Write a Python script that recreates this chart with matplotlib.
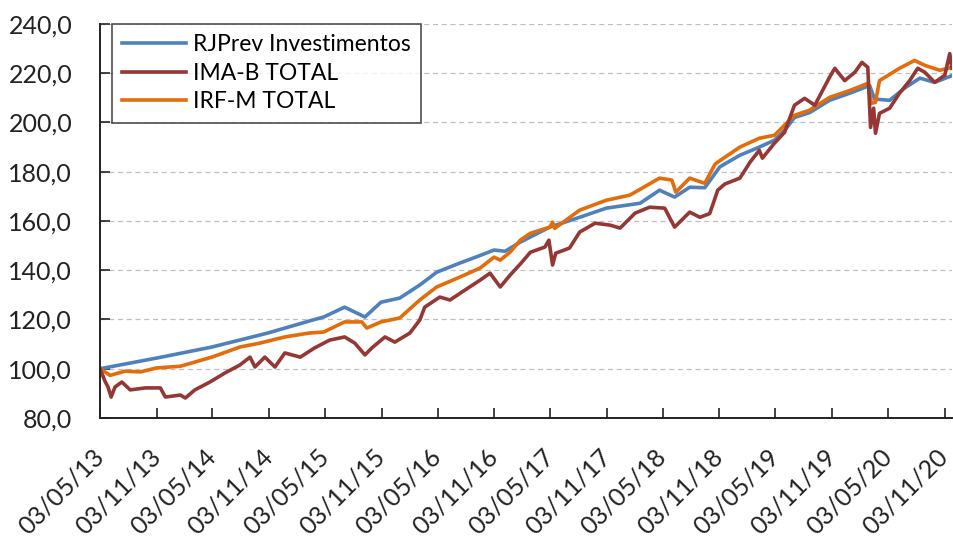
import matplotlib
matplotlib.use("Agg")
import matplotlib.pyplot as plt
import matplotlib.dates as mdates
import pandas as pd

# RJPrev Investimentos
rjprev_dates = ["2013-05-03", "2013-11-02", "2014-05-01", "2014-10-30", "2015-03-14",
                "2015-04-29", "2015-07-06", "2015-09-10", "2015-11-01", "2016-01-01",
                "2016-03-06", "2016-04-30", "2016-07-14", "2016-09-18", "2016-11-02",
                "2016-12-08", "2017-01-26", "2017-05-02", "2017-08-07", "2017-11-01",
                "2018-02-19", "2018-04-23", "2018-06-11", "2018-07-30", "2018-09-17",
                "2018-11-05", "2019-01-09", "2019-03-13", "2019-05-01", "2019-06-03",
                "2019-07-05", "2019-08-23", "2019-10-27", "2020-01-01", "2020-03-05",
                "2020-03-21", "2020-05-09", "2020-06-27", "2020-08-15", "2020-10-02",
                "2020-11-27"]
rjprev_values = [100.0, 104.3, 108.8, 114.5, 119.4,
                 121.0, 125.0, 121.0, 127.0, 128.7,
                 134.0, 139.2, 142.9, 146.0, 148.2,
                 147.7, 151.4, 157.5, 161.5, 165.2,
                 167.2, 172.5, 169.7, 173.7, 173.5,
                 182.0, 186.7, 190.0, 192.8, 196.8,
                 202.0, 204.0, 209.0, 211.9, 215.0,
                 209.5, 209.0, 214.0, 218.0, 216.3,
                 219.0]

# IMA-B TOTAL
imab_dates = ["2013-05-03", "2013-05-19", "2013-05-29", "2013-06-08", "2013-06-21",
              "2013-07-13", "2013-08-09", "2013-09-27", "2013-11-15", "2013-12-01",
              "2014-01-19", "2014-02-04", "2014-03-07", "2014-04-25", "2014-06-13",
              "2014-07-31", "2014-09-02", "2014-09-18", "2014-10-20", "2014-11-22",
              "2014-12-24", "2015-02-12", "2015-03-30", "2015-05-18", "2015-07-06",
              "2015-08-08", "2015-09-10", "2015-10-02", "2015-11-14", "2015-12-16",
              "2016-02-03", "2016-03-06", "2016-03-22", "2016-05-10", "2016-06-12",
              "2016-07-30", "2016-09-18", "2016-10-20", "2016-11-22", "2016-12-24",
              "2017-01-26", "2017-02-28", "2017-04-16", "2017-04-29", "2017-05-11",
              "2017-05-21", "2017-07-05", "2017-08-07", "2017-09-26", "2017-11-14",
              "2017-12-16", "2018-02-03", "2018-03-22", "2018-05-10", "2018-06-11",
              "2018-07-30", "2018-09-01", "2018-10-03", "2018-10-29", "2018-11-21",
              "2019-01-09", "2019-02-11", "2019-03-13", "2019-03-23", "2019-05-01",
              "2019-06-03", "2019-07-05", "2019-08-07", "2019-09-09", "2019-10-27",
              "2019-11-13", "2019-12-15", "2020-01-17", "2020-02-09", "2020-02-28",
              "2020-03-08", "2020-03-18", "2020-03-24", "2020-04-06", "2020-05-09",
              "2020-06-10", "2020-07-13", "2020-08-08", "2020-08-31", "2020-10-02",
              "2020-11-04", "2020-11-20", "2020-11-27"]
imab_values = [100.0, 95.0, 92.6, 88.5, 92.6,
               94.6, 91.4, 92.2, 92.2, 88.5,
               89.3, 88.1, 91.4, 94.6, 98.3,
               101.5, 104.7, 100.7, 104.7, 100.7,
               106.4, 104.7, 108.4, 111.6, 112.9,
               110.4, 105.6, 108.4, 112.9, 110.8,
               114.5, 119.8, 125.0, 129.1, 127.9,
               131.9, 136.0, 138.8, 133.2, 138.0,
               142.5, 147.3, 149.4, 152.2, 142.1,
               146.9, 149.0, 155.5, 159.1, 158.3,
               157.1, 163.2, 165.6, 165.2, 157.5,
               163.6, 161.5, 163.0, 172.5, 175.0,
               177.4, 183.9, 188.7, 185.5, 191.6,
               196.0, 207.0, 209.8, 207.0, 218.4,
               222.0, 217.0, 220.4, 224.4, 222.4,
               198.0, 205.8, 195.6, 203.7, 205.8,
               211.9, 217.0, 222.0, 220.4, 216.3,
               219.2, 228.0, 222.0]

# IRF-M TOTAL
irfm_dates = ["2013-05-03", "2013-06-05", "2013-07-23", "2013-09-11", "2013-11-02",
              "2014-01-19", "2014-05-01", "2014-07-31", "2014-10-04", "2014-12-24",
              "2015-03-14", "2015-04-29", "2015-07-06", "2015-08-31", "2015-09-16",
              "2015-11-01", "2016-01-01", "2016-03-06", "2016-04-30", "2016-07-14",
              "2016-09-18", "2016-11-02", "2016-11-22", "2016-12-24", "2017-01-26",
              "2017-02-28", "2017-05-02", "2017-05-11", "2017-05-18", "2017-08-07",
              "2017-11-01", "2018-01-17", "2018-04-23", "2018-06-02", "2018-06-15",
              "2018-07-30", "2018-09-17", "2018-10-20", "2018-11-05", "2019-01-09",
              "2019-03-13", "2019-05-01", "2019-06-03", "2019-07-05", "2019-08-23",
              "2019-10-27", "2020-01-01", "2020-02-28", "2020-03-11", "2020-03-24",
              "2020-04-06", "2020-06-10", "2020-07-29", "2020-08-31", "2020-10-19",
              "2020-11-27"]
irfm_values = [100.0, 97.3, 99.0, 98.7, 100.3,
               101.0, 104.7, 108.8, 110.4, 112.9,
               114.5, 114.9, 119.0, 119.0, 116.5,
               119.0, 120.6, 127.9, 133.2, 137.2,
               140.9, 145.3, 144.1, 147.3, 152.2,
               155.0, 157.5, 159.5, 157.0, 164.4,
               168.4, 170.5, 177.4, 176.6, 171.7,
               177.4, 175.3, 183.0, 184.5, 190.0,
               193.6, 194.8, 198.9, 202.9, 205.0,
               210.2, 213.0, 215.9, 207.8, 208.2,
               217.0, 222.0, 225.2, 223.2, 221.2,
               222.4]

series = [
    ("RJPrev Investimentos", rjprev_dates, rjprev_values, "#4F81BD"),
    ("IMA-B TOTAL", imab_dates, imab_values, "#953735"),
    ("IRF-M TOTAL", irfm_dates, irfm_values, "#E46C0A"),
]

# ticks every 6 months, on the 3rd (May / Nov)
tick_dates = pd.date_range("2013-05-01", "2020-11-01", freq="6MS") + pd.Timedelta(days=2)

plt.rcParams["font.family"] = ["Lato", "DejaVu Sans"]

fig = plt.figure(figsize=(9.54, 5.4), dpi=100)
ax = fig.add_axes([0.1048, 0.226, 0.893, 0.7296])

# draw order: blue, orange, red on top like the original
for name, d, v, c in [series[0], series[2], series[1]]:
    ax.plot(pd.to_datetime(d), v, color=c, lw=2.6, label=name, solid_joinstyle="round")

ax.set_ylim(80, 240)
ax.set_yticks(range(80, 241, 20))
ax.set_yticklabels([f"{t},0" for t in range(80, 241, 20)])
ax.set_xlim(pd.Timestamp("2013-05-03"), pd.Timestamp("2020-11-27"))
ax.set_xticks(tick_dates)
ax.xaxis.set_major_formatter(mdates.DateFormatter("%d/%m/%y"))
plt.setp(ax.get_xticklabels(), rotation=45, ha="right", va="center", rotation_mode="anchor")

ax.yaxis.grid(True, color="#BFBFBF", linestyle=(0, (4, 3)), lw=0.9)
ax.set_axisbelow(True)
for s in ["top", "right"]:
    ax.spines[s].set_visible(False)
for s in ["left", "bottom"]:
    ax.spines[s].set_linewidth(1.4)
    ax.spines[s].set_color("#222222")
ax.tick_params(axis="both", direction="in", length=7, width=1.2, color="#222222",
               labelsize=18, labelcolor="#222222")
ax.tick_params(axis="y", pad=20)
ax.tick_params(axis="x", pad=25)

handles, labels = ax.get_legend_handles_labels()
order = [0, 2, 1]
leg = ax.legend([handles[i] for i in order], [labels[i] for i in order],
                loc="upper left", bbox_to_anchor=(0.014, 1.0), borderaxespad=0,
                fontsize=16.5, frameon=True, fancybox=False, edgecolor="#222222",
                handlelength=2.8, handletextpad=0.3, borderpad=0.45, labelspacing=0.33)
leg.get_frame().set_linewidth(1.2)

fig.savefig("out.png", dpi=100)
